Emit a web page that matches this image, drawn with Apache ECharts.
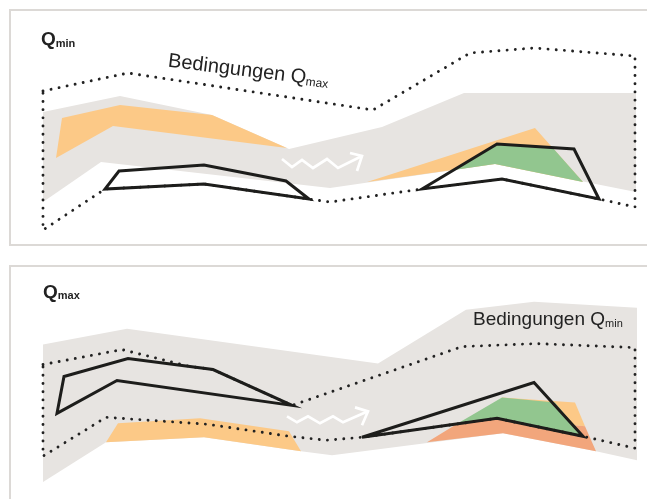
<!DOCTYPE html>
<html><head><meta charset="utf-8">
<script src="https://cdn.jsdelivr.net/npm/echarts@6/dist/echarts.min.js"></script>
<style>html,body{margin:0;padding:0;background:#fff}#c{width:647px;height:499px}</style>
</head><body><div id="c"></div>
<script>
// ---------- TOP PANEL (Q_min) : panel-local units ----------
const topBand      = [[43,112],[120,96],[212,115],[289,149],[382,127],[464,93],[636,93],[636,192],[495,164],[330,188],[101,162],[43,202]];
const topOrangeL   = [[62,118],[120,105],[212,115],[287,148],[113,126],[56,158]];
const topOrangeR   = [[367,182],[535,128],[583,182],[495,164]];
const topGreen     = [[454,170],[497,144],[552,147],[583,182],[495,164]];
const topDotted    = [[43,91],[128,73],[373,110],[470,53],[534,48],[635,56],[635,207],[599,199],[502,179],[422,189],[330,202],[309,199],[204,184],[105,189],[43,230],[43,91]];
const topBlack1    = [[119,171],[204,165],[286,181],[309,199],[204,184],[105,189]];
const topBlack2    = [[422,189],[497,144],[574,149],[599,199],[502,179]];
const topZigzag    = [[282,159],[292,167],[302,160],[313,168],[327,159],[338,168],[362,156]];
const topArrowHead = [[350,153],[362,156],[357,171]];
const topLabels    = [['Q','min'],['Bedingungen Q','max']];
const topLabelAt   = [[41,49],[167,71]];

// ---------- BOTTOM PANEL (Q_max) : panel-local units ----------
const botBand      = [[43,95],[127,79],[378,114],[466,60],[534,52],[637,58],[637,211],[596,202],[503,184],[332,206],[301,202],[204,188],[106,193],[43,233]];
const botOrangeL   = [[106,193],[118,174],[200,169],[289,182],[301,202],[204,188]];
const botOrangeR   = [[502,148],[575,153],[585,177],[497,169]];
const botRed       = [[427,193],[458,174],[497,169],[585,177],[596,202],[503,184]];
const botGreen     = [[458,174],[502,148],[555,153],[583,187],[497,169]];
const botDotted    = [[43,115],[122,100],[190,117],[213,120],[292,156],[462,97],[536,94],[635,98],[635,199],[583,187],[497,169],[362,188],[326,191],[289,187],[208,175],[106,168],[43,207],[43,115]];
const botBlack1    = [[64,127],[128,109],[213,120],[292,156],[117,131],[57,164]];
const botBlack2    = [[362,188],[534,133],[583,187],[497,169]];
const botZigzag    = [[287,167],[297,173],[308,167],[320,174],[333,167],[343,173],[368,162]];
const botArrowHead = [[355,158],[368,162],[362,176]];
const botLabels    = [['Q','max'],['Bedingungen Q','min']];
const botLabelAt   = [[43,52],[473,80]];

// ---------- styles ----------
const GRAY='#e7e4e1', ORANGE='#fcc987', GREEN='#92c68f', RED='#f2a67c', INK='#1d1d1b';
const S = {
  band:  {fill:GRAY},
  orange:{fill:ORANGE},
  green: {fill:GREEN},
  red:   {fill:RED},
  dots:  {fill:null, stroke:'#222', lineWidth:2.9, lineDash:[0.01,8.2], lineCap:'round'},
  black: {fill:null, stroke:INK, lineWidth:3, lineJoin:'miter'},
  white: {fill:null, stroke:'#fff', lineWidth:2.7, lineJoin:'miter', lineCap:'butt'}
};

const topLayers = [
  [topBand,'band',true],[topOrangeL,'orange',true],[topOrangeR,'orange',true],[topGreen,'green',true],
  [topDotted,'dots',false],[topBlack1,'black',true],[topBlack2,'black',true],
  [topZigzag,'white',false],[topArrowHead,'white',false]
];
const botLayers = [
  [botBand,'band',true],[botOrangeL,'orange',true],[botOrangeR,'orange',true],[botRed,'red',true],[botGreen,'green',true],
  [botDotted,'dots',false],[botBlack1,'black',true],[botBlack2,'black',true],
  [botZigzag,'white',false],[botArrowHead,'white',false]
];

function shapeSeries(layers, gi){
  return {
    type:'custom', xAxisIndex:gi, yAxisIndex:gi, silent:true, clip:false,
    data: layers.map(l => l[0][0]),
    renderItem: (params, api) => {
      const l = layers[params.dataIndex];
      const pts = l[0].map(p => api.coord(p));
      return {type: l[2] ? 'polygon' : 'polyline', shape:{points:pts}, style: Object.assign({}, S[l[1]])};
    }
  };
}
const FONT = '"Liberation Sans", Arial, sans-serif';
function labelSeries(labels, at, gi){
  return {
    type:'custom', xAxisIndex:gi, yAxisIndex:gi, silent:true, clip:false,
    data: at,
    renderItem: (params, api) => {
      const i = params.dataIndex;
      const p = api.coord(at[i]);
      const title = i === 0;
      const rotated = (gi === 0 && i === 1);
      const rot = rotated ? -7 * Math.PI / 180 : 0;
      const f1 = rotated ? 20 : 19, f2 = rotated ? 12 : 11;
      const w = title ? 'bold' : 'normal';
      return {
        type:'text', x:p[0], y:p[1], rotation:rot,
        style:{
          text:'{a|' + labels[i][0] + '}{b|' + labels[i][1] + '}',
          align:'left', verticalAlign:'bottom', fill:'#222',
          rich:{
            a:{fontSize:f1, fontWeight:w, fontFamily:FONT, lineHeight:f1, verticalAlign:'bottom', fill:'#222'},
            b:{fontSize:f2, fontWeight:w, fontFamily:FONT, lineHeight:f2, verticalAlign:'bottom', fill:'#222'}
          }
        }
      };
    }
  };
}

const chart = echarts.init(document.getElementById('c'), null, {renderer:'canvas'});
const axX = gi => ({gridIndex:gi, type:'value', min:0, max:647, show:false});
const axY = gi => ({gridIndex:gi, type:'value', min:0, max:250, inverse:true, show:false});
chart.setOption({
  animation:false,
  backgroundColor:'#fff',
  grid:[{left:0, top:0, width:647, height:250},{left:0, top:250, width:647, height:250}],
  xAxis:[axX(0), axX(1)],
  yAxis:[axY(0), axY(1)],
  graphic:[
    {type:'rect', shape:{x:10, y:10, width:680, height:235}, style:{fill:null, stroke:'#dcd9d6', lineWidth:2}, silent:true, z:-10},
    {type:'rect', shape:{x:10, y:266, width:680, height:260}, style:{fill:null, stroke:'#dcd9d6', lineWidth:2}, silent:true, z:-10}
  ],
  series:[
    shapeSeries(topLayers,0), labelSeries(topLabels, topLabelAt, 0),
    shapeSeries(botLayers,1), labelSeries(botLabels, botLabelAt, 1)
  ]
});
</script></body></html>
